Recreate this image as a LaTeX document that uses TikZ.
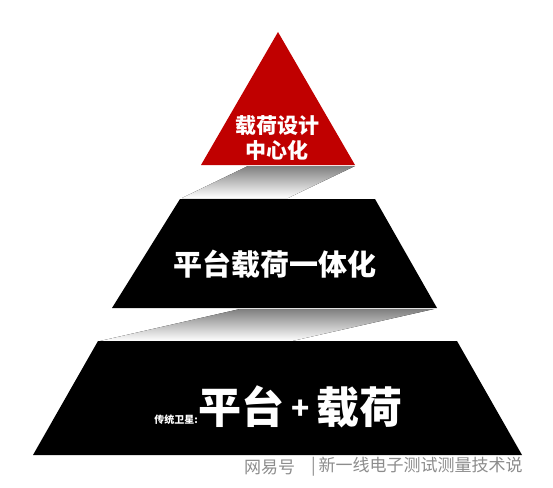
\documentclass[tikz,border=0pt]{standalone}
\usepackage{fontspec}
\newfontfamily\cjk{Noto Sans CJK SC}
\definecolor{pyrred}{HTML}{C00000}
\definecolor{shade}{HTML}{F2F2F2}
\begin{document}
\begin{tikzpicture}[x=1pt,y=-1pt,
  lbl/.style={text=white,font=\cjk\bfseries,inner sep=0pt,align=center},
  wm/.style={text=black!45,font=\cjk,inner sep=0pt}]
\useasboundingbox (0,0) rectangle (553,487);
% shadows
\fill[shade] (248,166) -- (355,166) -- (288,198) -- (182,198) -- cycle;
\fill[shade] (240,309) -- (434,309) -- (292,341) -- (100,341) -- cycle;
% levels
\fill[pyrred] (278,32) -- (355,165) -- (201,165) -- cycle;
\fill[black] (180,199) -- (375,199) -- (437,308) -- (112,308) -- cycle;
\fill[black] (98,341) -- (457,341) -- (522,455) -- (33,455) -- cycle;
% labels
\node[lbl,font=\cjk\bfseries\fontsize{21}{25}\selectfont] (top) at (277,138) {载荷设计\\中心化};
\node[lbl,font=\cjk\bfseries\fontsize{29}{33}\selectfont] (mid) at (275,264) {平台载荷一体化};
\node[lbl,font=\cjk\bfseries\fontsize{43}{50}\selectfont,anchor=base west] (big) at (198,423) {平台\,\raisebox{4pt}{\fontsize{30}{34}\selectfont +}\,载荷};
\node[lbl,font=\cjk\bfseries\fontsize{10}{12}\selectfont,anchor=base east] (small) at (big.base west) {传统卫星:};
% watermark
\node[wm,font=\cjk\fontsize{17}{20}\selectfont,anchor=west] (wm1) at (244,467) {网易号};
\node[wm,font=\cjk\fontsize{17}{20}\selectfont,anchor=west] (wm2) at (311,467) {|\,新一线电子测试测量技术说};
\end{tikzpicture}
\end{document}
